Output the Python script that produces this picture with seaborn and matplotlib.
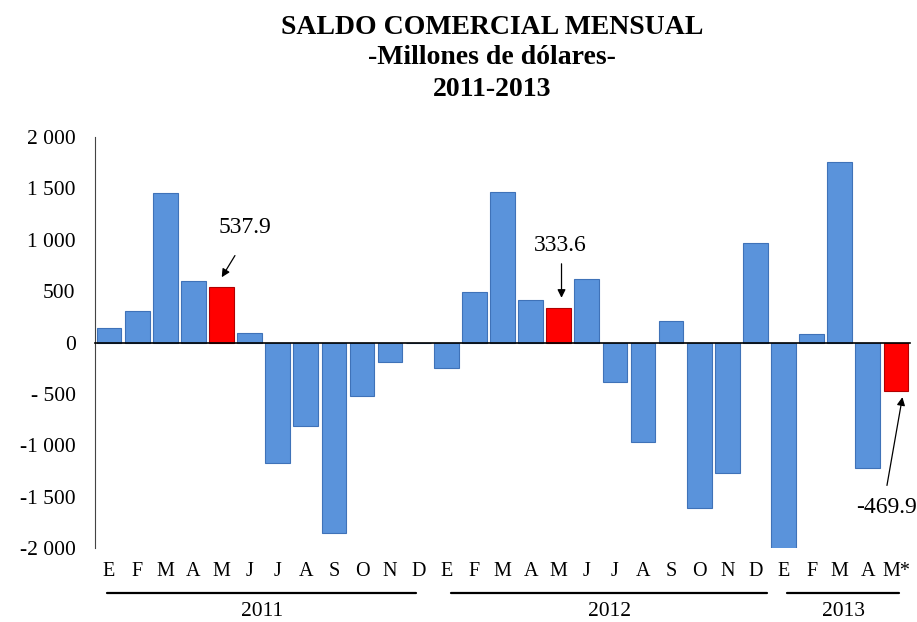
import matplotlib
matplotlib.use("Agg")
import matplotlib.pyplot as plt
import matplotlib.transforms as mtransforms
import seaborn as sns
import numpy as np

# ---- data ----
months = ["E", "F", "M", "A", "M", "J", "J", "A", "S", "O", "N", "D",
          "E", "F", "M", "A", "M", "J", "J", "A", "S", "O", "N", "D",
          "E", "F", "M", "A", "M*"]
years = ["2011", "2012", "2013"]
values = [139, 311, 1457, 603, 537.9, 97, -1171, -814, -1852, -516, -189, 0,
          -253, 496, 1469, 409, 333.6, 620, -389, -973, 214, -1609, -1269, 970,
          -2010, 78, 1761, -1220, -469.9]
highlight = [4, 16, 28]
ytick_vals = [2000, 1500, 1000, 500, 0, -500, -1000, -1500, -2000]
ytick_labels = ["2 000", "1 500", "1 000", "500", "0", "- 500", "-1 000", "-1 500", "-2 000"]

BLUE = "#5A93DB"
RED = "#FF0000"

sns.set_style("white")
plt.rcParams["font.family"] = ["Liberation Serif", "DejaVu Serif"]
plt.rcParams["text.color"] = "black"
plt.rcParams["ytick.labelcolor"] = "black"

fig = plt.figure(figsize=(9.17, 6.22), dpi=100)
ax = fig.add_axes([95 / 917, 1 - 548 / 622, (910 - 95) / 917, (548 - 137) / 622])

pos = list(range(len(values)))
colors = [RED if i in highlight else BLUE for i in pos]
sns.barplot(x=pos, y=values, hue=pos, palette=colors, legend=False,
            width=0.88, ax=ax, edgecolor="#3F72B8", linewidth=0.8, saturation=1)
for i, p in enumerate(ax.patches):
    if i in highlight:
        p.set_edgecolor("#B00000")

ax.set_xlim(-0.5, len(values) - 0.5)
ax.set_ylim(-2000, 2000)
ax.set_yticks(ytick_vals)
ax.set_yticklabels(ytick_labels, fontsize=15.5, color="black")
ax.set_xlabel("")
ax.set_ylabel("")

for s in ["top", "right"]:
    ax.spines[s].set_visible(False)
ax.spines["bottom"].set_position(("data", 0))
ax.spines["bottom"].set_color("black")
ax.spines["left"].set_color("#444444")
ax.spines["bottom"].set_linewidth(1.2)
ax.set_xticks(np.arange(-0.5, len(values), 1.0))
ax.set_xticklabels([])
ax.tick_params(axis="x", direction="out", length=5, width=1, color="black")
ax.tick_params(axis="y", direction="out", length=6, width=1, color="#444444", pad=8)

trans = mtransforms.blended_transform_factory(ax.transData, ax.transAxes)
for i, m in enumerate(months):
    ax.text(i, -0.057, m, transform=trans, ha="center", va="center", fontsize=14.5)

year_spans = [(-0.07, 10.93), (12.17, 23.42), (24.13, 28.11)]
for (a, b), yr in zip(year_spans, years):
    ax.plot([a, b], [-0.109, -0.109], transform=trans, color="black", lw=1.6, clip_on=False)
    ax.text((a + b) / 2, -0.155, yr, transform=trans, ha="center", va="center", fontsize=15.5)

# annotations: arrows and labels
arrow_kw = dict(arrowstyle="-|>", color="black", lw=0.9, shrinkA=0, shrinkB=0,
                mutation_scale=12)
ax.annotate("", xy=(4.01, 635), xytext=(4.48, 846), arrowprops=arrow_kw)
ax.text(4.84, 1122, f"{values[4]}", ha="center", va="center", fontsize=17)

ax.annotate("", xy=(16.1, 435), xytext=(16.1, 766), arrowprops=arrow_kw)
ax.text(16.05, 944, f"{values[16]}", ha="center", va="center", fontsize=17)

ax.annotate("", xy=(28.23, -532), xytext=(27.68, -1391), arrowprops=arrow_kw,
            annotation_clip=False)
ax.text(27.68, -1602, f"{values[28]}", ha="center", va="center", fontsize=17, clip_on=False)

for ypix, line in [(27, "SALDO COMERCIAL MENSUAL"), (58, "-Millones de dólares-"), (90, "2011-2013")]:
    fig.text(492 / 917, 1 - ypix / 622, line, ha="center", va="center",
             fontsize=20, fontweight="bold", color="black")

fig.savefig("out.png", dpi=100)
